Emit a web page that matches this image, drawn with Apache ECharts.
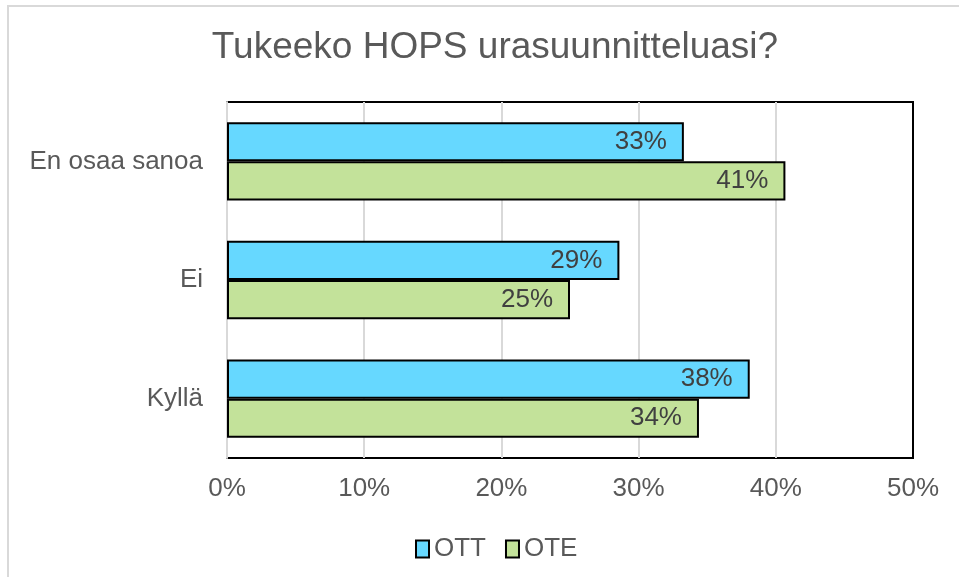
<!DOCTYPE html>
<html>
<head>
<meta charset="utf-8">
<script src="https://cdn.jsdelivr.net/npm/echarts@6/dist/echarts.min.js"></script>
<style>
  html, body { margin: 0; padding: 0; background: #fff; }
  .frame {
    position: absolute; left: 7px; top: 5px;
    width: 1000px; height: 620px;
    border: 2px solid #d9d9d9;
  }
  #chart { position: absolute; left: 0; top: 0; width: 959px; height: 577px; }
</style>
</head>
<body>
<div class="frame"></div>
<div id="chart"></div>
<script>
const categories = ['Kyllä', 'Ei', 'En osaa sanoa'];
const ottValues = [38.1, 28.6, 33.3];
const oteValues = [34.4, 25.0, 40.7];
const xTicks = [0, 10, 20, 30, 40, 50];

const font = 'Liberation Sans, Arial, sans-serif';
const chart = echarts.init(document.getElementById('chart'));

const labelOpt = {
  show: true,
  position: 'insideRight',
  distance: 17,
  fontSize: 26,
  fontFamily: font,
  color: '#404040',
  formatter: (p) => Math.round(p.value) + '%'
};

chart.setOption({
  animation: false,
  backgroundColor: 'transparent',
  title: {
    text: 'Tukeeko HOPS urasuunnitteluasi?',
    left: 490,
    textAlign: 'center',
    top: 24,
    textStyle: { fontSize: 37, fontWeight: 'normal', color: '#595959', fontFamily: font }
  },
  legend: {
    data: ['OTT', 'OTE'],
    top: 531,
    left: 410,
    icon: 'rect',
    itemWidth: 13,
    itemHeight: 17,
    itemGap: 19,
    itemStyle: { borderColor: '#000', borderWidth: 2 },
    textStyle: { fontSize: 26, color: '#595959', fontFamily: font }
  },
  grid: {
    left: 227, right: 46, top: 102, bottom: 119,
    show: true,
    borderColor: '#000',
    borderWidth: 2
  },
  xAxis: {
    type: 'value',
    min: xTicks[0],
    max: xTicks[xTicks.length - 1],
    interval: 10,
    axisLine: { show: false },
    axisTick: { show: false },
    axisLabel: { formatter: '{value}%', fontSize: 26, color: '#595959', fontFamily: font, margin: 18 },
    splitLine: { show: true, lineStyle: { color: ['#d9d9d9', '#d9d9d9', '#d9d9d9', '#d9d9d9', '#d9d9d9', '#000'], width: 2 } }
  },
  yAxis: {
    type: 'category',
    data: categories,
    axisLine: { show: true, lineStyle: { color: '#d9d9d9', width: 2 } },
    axisTick: { show: false },
    axisLabel: { fontSize: 26, color: '#595959', fontFamily: font, margin: 24 }
  },
  series: [
    {
      name: 'OTT',
      type: 'bar',
      data: ottValues,
      barGap: '0%',
      barCategoryGap: '34%',
      itemStyle: { color: '#66D8FF', borderColor: '#000', borderWidth: 2 },
      label: labelOpt
    },
    {
      name: 'OTE',
      type: 'bar',
      data: oteValues,
      barGap: '0%',
      barCategoryGap: '34%',
      itemStyle: { color: '#C3E29A', borderColor: '#000', borderWidth: 2 },
      label: labelOpt
    }
  ]
});
</script>
</body>
</html>
